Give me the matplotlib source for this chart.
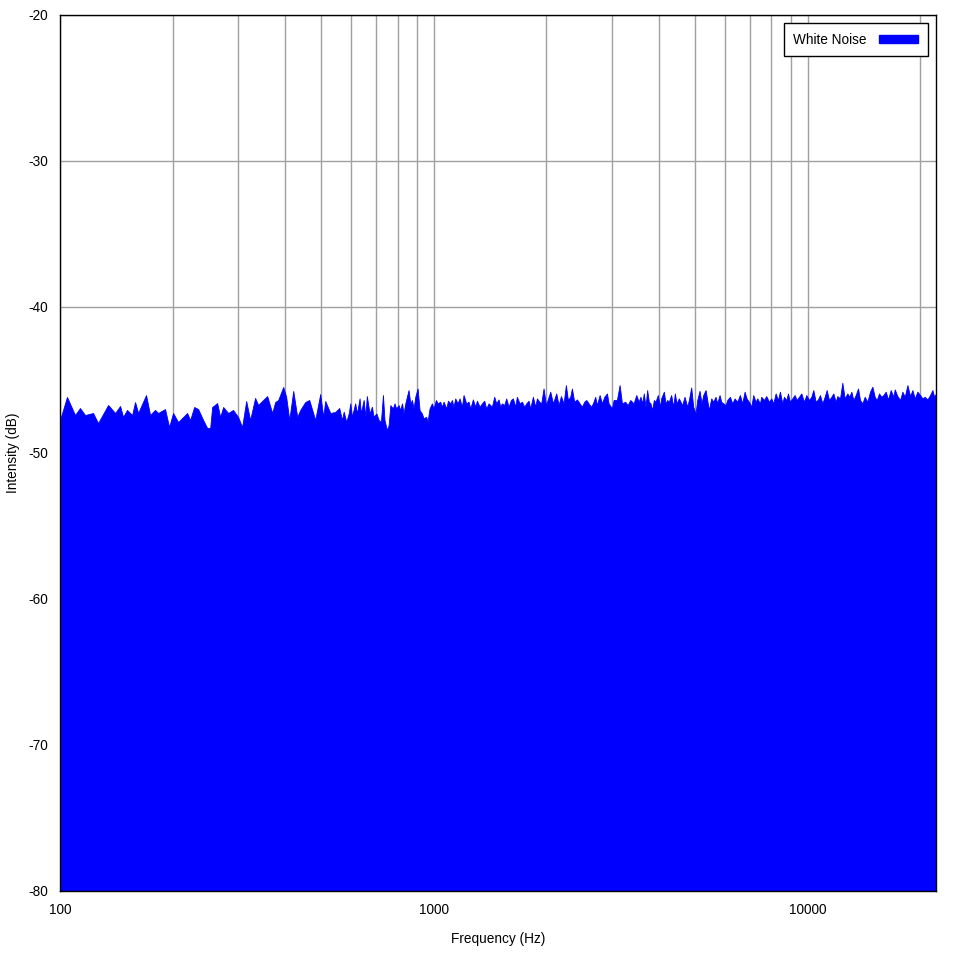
import matplotlib
matplotlib.use("Agg")
import matplotlib.pyplot as plt
from matplotlib.patches import Patch
from matplotlib.ticker import FixedLocator, NullFormatter

# =============================
# DATA (read off the spectrum top edge)
# =============================
freq_hz = [
    100, 104.4, 109.7, 113.1, 116.7, 122.6, 126.4, 134.5, 140.4, 144.8,
    147.5, 151.1, 155.9, 158.8, 161.8, 169.9, 174.2, 179.6, 183.0, 191.0,
    195.8, 200.7, 207.0, 218.8, 222.9, 228.5, 234.2, 241.5, 247.6, 252.2,
    255.3, 263.3, 268.2, 273.2, 281.8, 290.4, 299.5, 307.0, 314.8, 322.6,
    332.6, 338.9, 349.5, 358.3, 369.5, 376.4, 383.4, 395.5, 402.8, 410.5,
    420.7, 431.2, 439.2, 452.9, 464.2, 481.7, 496.8, 506.0, 512.3, 528.4,
    544.9, 558.5,
    568, 574, 583, 592, 598, 604, 616, 623, 633, 638, 649, 656, 662, 673,
    683, 690, 702, 712, 722, 731, 738, 749, 757, 765, 777, 785, 793, 805,
    813, 822, 830, 839, 847, 856, 865, 874, 883, 892, 905, 916, 929, 939,
    954, 962, 974, 988, 999, 1013, 1024, 1040, 1051, 1062, 1080, 1091,
    1107, 1118, 1129, 1141, 1158, 1172, 1189, 1201, 1221, 1239, 1252,
    1272, 1291, 1304, 1326, 1345, 1364, 1381, 1401, 1416, 1430, 1451,
    1469, 1490, 1506, 1521, 1543, 1562, 1585, 1608, 1628, 1651, 1668,
    1696, 1721, 1746, 1767, 1793, 1811, 1841, 1868, 1887, 1915, 1938,
    1966, 1995, 2049, 2083, 2126, 2157, 2188, 2224, 2256, 2284, 2317,
    2341, 2375, 2415, 2455, 2490, 2526, 2558, 2595, 2632, 2665, 2703,
    2731, 2777, 2817, 2858, 2905, 2935, 2996, 3027, 3089, 3141, 3186,
    3252, 3299, 3354, 3424, 3481, 3531,
    3572, 3609, 3646, 3684, 3722, 3760, 3799, 3838, 3878, 3918, 3975,
    4024, 4057, 4125, 4167, 4210, 4254, 4315, 4369, 4414, 4460, 4524,
    4571, 4618, 4685, 4763, 4812, 4882, 4942, 5014, 5066, 5139, 5203,
    5257, 5333, 5388, 5443, 5522, 5591, 5672, 5730, 5813, 5873, 5946,
    6032, 6095, 6196, 6286, 6377, 6482, 6590, 6685, 6782, 6866, 6966,
    7067, 7154, 7258, 7333, 7455, 7516, 7641, 7751, 7880, 7994, 8093,
    8211, 8330, 8433, 8555, 8643, 8769, 8859, 8969, 9099, 9231, 9346,
    9481, 9618, 9778, 9919, 10084, 10230, 10357, 10507, 10659, 10791,
    10948, 11106, 11244, 11407, 11572, 11716, 11886, 12009, 12207, 12384,
    12564, 12772, 12931, 13091, 13253, 13446, 13640, 13810, 14010, 14213,
    14448, 14688, 14900, 15117, 15304, 15526, 15751, 15946, 16177, 16412,
    16684, 16960, 17100, 17384, 17672, 17928, 18188, 18489, 18796, 19068,
    19344, 19665, 19991, 20281, 20574, 20915, 21262, 21570, 21793, 22050,
]

level_db = [
    -47.74, -46.16, -47.40, -46.92, -47.40, -47.26, -47.95, -46.71, -47.26, -46.78,
    -47.53, -47.05, -47.40, -46.51, -47.26, -46.03, -47.40, -47.05, -47.26, -46.99,
    -48.22, -47.26, -47.88, -47.26, -47.74, -46.85, -46.99, -47.74, -48.29, -48.29,
    -46.85, -46.58, -47.53, -46.85, -47.26, -47.05, -47.53, -48.22, -46.44, -47.74,
    -46.23, -46.71, -46.37, -46.10, -47.26, -46.51, -46.37, -45.48, -46.16, -47.74,
    -45.75, -47.53, -47.05, -46.51, -46.37, -47.74, -45.96, -47.53, -46.44, -47.26,
    -47.19, -46.92,
    -47.74, -47.17, -47.86, -47.29, -46.60, -47.52, -46.60, -47.29, -46.26, -47.29,
    -46.37, -47.52, -46.10, -47.29, -46.83, -47.52, -47.29, -47.74, -47.86, -46.03,
    -47.74, -48.43, -48.09, -46.72, -46.95, -46.60, -46.95, -46.72, -47.06, -46.60,
    -47.29, -46.60, -46.15, -45.69, -46.60, -46.37, -46.95, -46.15, -45.58, -47.06,
    -47.29, -47.63, -47.52, -47.86, -46.95, -46.60, -46.95, -46.37, -46.60, -46.49,
    -46.83, -46.49, -46.95, -46.42, -46.60, -46.37, -46.83, -46.26, -46.60, -46.26,
    -46.83, -46.03, -46.60, -46.49, -46.95, -46.33, -46.83, -46.42, -46.83, -46.60,
    -46.42, -46.95, -46.60, -46.72, -46.83, -46.15, -46.60, -46.33, -46.83, -46.60,
    -46.72, -46.26, -46.83, -46.37, -46.26, -46.83, -46.15, -46.60, -46.49, -46.83,
    -46.60, -46.42, -46.95, -46.15, -46.83, -46.26, -46.49, -46.60, -45.58, -46.72,
    -45.80, -46.60, -45.92, -46.72, -46.10, -46.60, -45.35, -46.37, -46.15, -45.58,
    -46.49, -46.33, -46.60, -46.83, -46.49, -46.37, -46.60, -46.83, -46.60, -46.15,
    -46.72, -46.03, -46.60, -46.15, -45.92, -46.60, -46.95, -46.37, -46.37, -45.35,
    -46.60, -46.49, -46.72, -46.37, -46.60, -46.03, -46.49,
    -46.15, -46.60, -45.92, -46.83, -45.69, -46.49, -46.60, -47.06, -46.37, -46.49,
    -46.03, -46.83, -46.26, -45.80, -46.60, -46.37, -46.49, -46.03, -46.83, -45.92,
    -46.60, -46.26, -46.49, -46.72, -46.15, -46.83, -46.37, -45.51, -46.83, -47.29,
    -46.37, -45.74, -46.60, -46.03, -45.69, -46.37, -47.06, -46.26, -46.49, -46.15,
    -46.60, -46.03, -46.49, -46.60, -46.72, -46.37, -46.15, -46.60, -46.26, -46.49,
    -46.03, -46.60, -45.80, -46.26, -46.49, -46.83, -46.03, -46.49, -46.26, -46.60,
    -46.15, -46.37, -46.10, -46.49, -46.26, -46.60, -45.92, -46.37, -45.80, -46.60,
    -46.15, -46.37, -45.92, -46.49, -46.26, -46.03, -46.37, -46.15, -45.92, -46.49,
    -46.03, -46.37, -46.15, -45.69, -46.49, -46.33, -46.03, -46.60, -46.15, -45.69,
    -46.37, -46.15, -45.92, -46.49, -46.10, -46.26, -45.19, -46.26, -45.92, -46.15,
    -45.80, -46.37, -46.03, -45.58, -46.37, -46.60, -46.15, -46.49, -45.80, -45.46,
    -46.15, -46.37, -45.92, -46.15, -46.03, -45.80, -46.33, -45.69, -46.15, -45.64,
    -46.10, -46.37, -45.80, -46.15, -45.35, -46.10, -45.69, -46.26, -45.80, -46.03,
    -46.26, -46.15, -46.33, -46.03, -45.69, -46.15, -45.92,
]

series_name = "White Noise"
x_major = [100, 1000, 10000]
x_minor = [200, 300, 400, 500, 600, 700, 800, 900,
           2000, 3000, 4000, 5000, 6000, 7000, 8000, 9000, 20000]
y_ticks = [-80, -70, -60, -50, -40, -30, -20]

# =============================
# PLOT
# =============================
plt.rcParams["font.family"] = ["Liberation Sans", "DejaVu Sans"]
plt.rcParams["font.size"] = 9.8
plt.rcParams["axes.unicode_minus"] = False

fig = plt.figure(figsize=(9.6, 9.6), dpi=100)
ax = fig.add_axes([60 / 960, 1 - 891 / 960, 876 / 960, 876 / 960])

ax.fill_between(freq_hz, level_db, -80, color="#0000ff", linewidth=0.6,
                edgecolor="#0000ff", zorder=2)

ax.set_xscale("log")
ax.set_xlim(100, 22050)
ax.set_ylim(-80, -20)

ax.xaxis.set_major_locator(FixedLocator(x_major))
ax.xaxis.set_minor_locator(FixedLocator(x_minor))
ax.xaxis.set_minor_formatter(NullFormatter())
ax.set_xticklabels([str(v) for v in x_major])
ax.set_yticks(y_ticks)

ax.grid(True, which="both", axis="x", color="#a0a0a0", linewidth=1, zorder=0)
ax.grid(True, which="major", axis="y", color="#a0a0a0", linewidth=1, zorder=0)
ax.set_axisbelow(True)

ax.tick_params(which="both", length=0, pad=8.5, labelsize=9.8)
for s in ax.spines.values():
    s.set_color("black")
    s.set_linewidth(1)
    s.set_zorder(5)

ax.set_xlabel("Frequency (Hz)", labelpad=11)
ax.set_ylabel("Intensity (dB)", labelpad=6)

handle = Patch(facecolor="#0000ff", edgecolor="#0000ff")
leg = ax.legend([handle], [series_name], loc="upper right", markerfirst=False,
                fancybox=False, framealpha=1, edgecolor="black",
                borderaxespad=0.6, handlelength=2.9, handleheight=0.55,
                borderpad=0.7, handletextpad=0.9, fontsize=9.8)
leg.get_frame().set_linewidth(1)

fig.savefig("out.png", dpi=100)
